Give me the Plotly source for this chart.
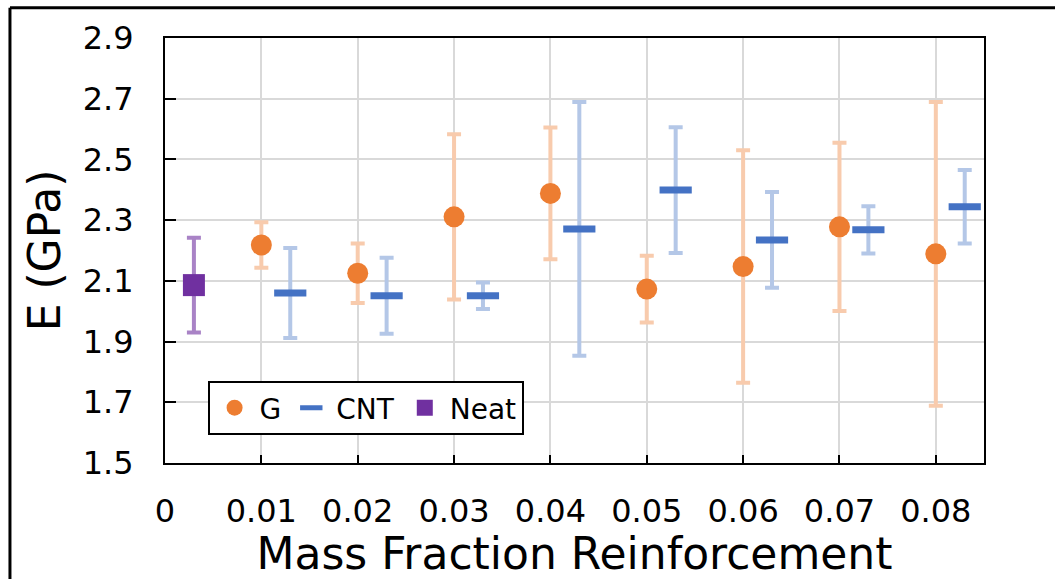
import plotly.graph_objects as go

# Mass fraction positions (CNT series is shifted slightly right so bars don't overlap)
g_x = [0.01, 0.02, 0.03, 0.04, 0.05, 0.06, 0.07, 0.08]
cnt_x = [0.013, 0.023, 0.033, 0.043, 0.053, 0.063, 0.073, 0.083]
neat_x = [0.003]

# Young's modulus (GPa) and standard deviations
g_e = [2.218, 2.125, 2.311, 2.388, 2.073, 2.147, 2.278, 2.189]
g_sd = [0.075, 0.098, 0.272, 0.217, 0.110, 0.383, 0.277, 0.500]

cnt_e = [2.060, 2.051, 2.051, 2.271, 2.399, 2.235, 2.268, 2.344]
cnt_sd = [0.148, 0.125, 0.044, 0.418, 0.207, 0.158, 0.078, 0.121]

neat_e = [2.086]
neat_sd = [0.156]

x_tick_vals = [0, 0.01, 0.02, 0.03, 0.04, 0.05, 0.06, 0.07, 0.08]
x_tick_text = ["0", "0.01", "0.02", "0.03", "0.04", "0.05", "0.06", "0.07", "0.08"]
y_tick_vals = [1.5, 1.7, 1.9, 2.1, 2.3, 2.5, 2.7, 2.9]

FONT = "DejaVu Sans"

fig = go.Figure()

fig.add_trace(go.Scatter(
    x=g_x, y=g_e, mode="markers", name="G",
    marker=dict(symbol="circle", size=21, color="#ED7D31"),
    error_y=dict(type="data", array=g_sd, visible=True,
                 color="#F8CBAD", thickness=4, width=7),
))

fig.add_trace(go.Scatter(
    x=cnt_x, y=cnt_e, mode="markers", name="CNT",
    marker=dict(symbol="line-ew", size=23, color="#4472C4",
                line=dict(color="#4472C4", width=7)),
    error_y=dict(type="data", array=cnt_sd, visible=True,
                 color="#B4C7E7", thickness=4, width=7),
))

fig.add_trace(go.Scatter(
    x=neat_x, y=neat_e, mode="markers", name="Neat",
    marker=dict(symbol="square", size=22, color="#7030A0"),
    error_y=dict(type="data", array=neat_sd, visible=True,
                 color="#A983C6", thickness=4, width=7),
))

fig.update_layout(
    width=1055, height=579,
    margin=dict(l=165, r=71, t=38, b=116),
    paper_bgcolor="white", plot_bgcolor="white",
    font=dict(family=FONT, color="black"),
    showlegend=True,
    legend=dict(
        x=0.052, y=0.193, xanchor="left", yanchor="top",
        orientation="h",
        bgcolor="white", bordercolor="black", borderwidth=2,
        font=dict(family=FONT, size=28, color="black"),
        itemwidth=40,
    ),
    xaxis=dict(
        range=[0, 0.085],
        tickvals=x_tick_vals, ticktext=x_tick_text,
        ticks="inside", ticklen=8, tickwidth=2, tickcolor="black",
        showgrid=True, gridcolor="#D9D9D9", gridwidth=2,
        showline=True, linecolor="black", linewidth=2, mirror=True,
        zeroline=False,
        tickfont=dict(family=FONT, size=32, color="black"),
        ticklabelstandoff=19,
        title=dict(text="Mass Fraction Reinforcement",
                   font=dict(family=FONT, size=44, color="black"),
                   standoff=4),
    ),
    yaxis=dict(
        range=[1.5, 2.9],
        tickvals=y_tick_vals, tickformat=".1f",
        ticks="inside", ticklen=11, tickwidth=2, tickcolor="black",
        showgrid=True, gridcolor="#D9D9D9", gridwidth=2,
        showline=True, linecolor="black", linewidth=2, mirror=True,
        zeroline=False,
        tickfont=dict(family=FONT, size=32, color="black"),
        ticklabelstandoff=23,
        title=dict(text="E (GPa)",
                   font=dict(family=FONT, size=44, color="black"),
                   standoff=8),
    ),
    shapes=[
        # outer frame (top and left edges)
        dict(type="line", xref="paper", yref="paper",
             x0=-0.1893, x1=1.2, y0=1.0711, y1=1.0711,
             line=dict(color="black", width=3)),
        dict(type="line", xref="paper", yref="paper",
             x0=-0.1893, x1=-0.1893, y0=1.0711, y1=-0.4,
             line=dict(color="black", width=3)),
    ],
)

fig.write_html("out.html")
